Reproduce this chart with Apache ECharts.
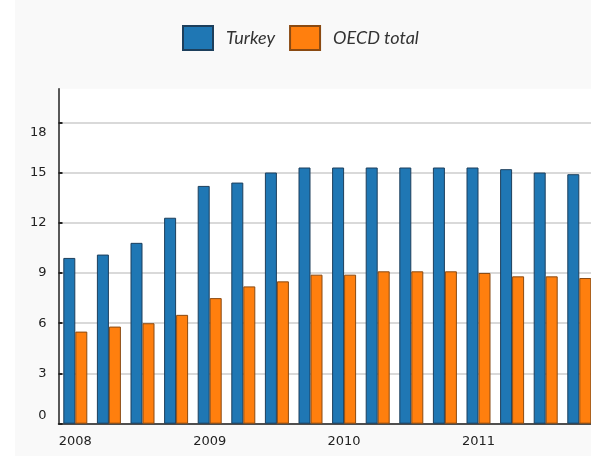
<!DOCTYPE html>
<html>
<head>
<meta charset="utf-8">
<script src="https://cdn.jsdelivr.net/npm/echarts@6/dist/echarts.min.js"></script>
<style>
  html, body { margin: 0; padding: 0; background: #ffffff; overflow: hidden; width: 591px; height: 456px; }
  #chart { position: absolute; left: 15px; top: 0; width: 582px; height: 456px; }
</style>
</head>
<body>
<div id="chart"></div>
<script>
var categories = ['2008 Q1','2008 Q2','2008 Q3','2008 Q4',
                  '2009 Q1','2009 Q2','2009 Q3','2009 Q4',
                  '2010 Q1','2010 Q2','2010 Q3','2010 Q4',
                  '2011 Q1','2011 Q2','2011 Q3','2011 Q4'];
var turkey = [9.9, 10.1, 10.8, 12.3, 14.2, 14.4, 15.0, 15.3, 15.3, 15.3, 15.3, 15.3, 15.3, 15.2, 15.0, 14.9];
var oecd   = [5.5, 5.8, 6.0, 6.5, 7.5, 8.2, 8.5, 8.9, 8.9, 9.1, 9.1, 9.1, 9.0, 8.8, 8.8, 8.7];
var yTicks = [0, 3, 6, 9, 12, 15, 18];

var chart = echarts.init(document.getElementById('chart'), null, { renderer: 'canvas' });
var labelFont = { fontFamily: 'DejaVu Sans', fontSize: 13, color: '#222' };
chart.setOption({
  backgroundColor: '#f9f9f9',
  animation: false,
  legend: {
    left: 162, top: 20,
    icon: 'rect',
    itemWidth: 30, itemHeight: 24, itemGap: 14,
    textStyle: { fontFamily: 'Lato', fontStyle: 'italic', fontSize: 18, color: '#333', padding: [0, 0, 0, 8] },
    data: ['Turkey', 'OECD total']
  },
  grid: {
    left: 43.5, right: 0.9, top: 88.8, bottom: 32.3,
    show: true, backgroundColor: '#ffffff', borderWidth: 0, containLabel: false
  },
  xAxis: {
    type: 'category',
    data: categories,
    boundaryGap: true,
    axisLine: { lineStyle: { color: '#222', width: 1.5 } },
    axisTick: { interval: 0, alignWithLabel: true, length: 4, lineStyle: { color: '#222', width: 1.5 } },
    axisLabel: Object.assign({
      interval: 0, margin: 11,
      formatter: function (v) { return v.slice(5) === 'Q1' ? v.slice(0, 4) : ''; }
    }, labelFont),
    splitLine: { show: false }
  },
  yAxis: {
    type: 'value', min: 0, max: 20, interval: 3,
    axisLine: { show: true, lineStyle: { color: '#222', width: 1.5 } },
    axisTick: { show: true, inside: true, length: 4, customValues: yTicks, lineStyle: { color: '#222', width: 2 } },
    axisLabel: Object.assign({
      margin: 12,
      customValues: yTicks,
      formatter: function (v) {
        if (v === 18) return '{d|18}';
        if (v === 0) return '{u|0}';
        return '{n|' + v + '}';
      },
      rich: {
        d: Object.assign({ padding: [20, 0, 0, 0] }, labelFont),
        u: Object.assign({ padding: [0, 0, 16, 0] }, labelFont),
        n: Object.assign({}, labelFont)
      }
    }, labelFont),
    splitLine: { show: true, lineStyle: { color: '#d9d9d9', width: 2 } }
  },
  series: [
    {
      name: 'Turkey', type: 'bar', data: turkey,
      barWidth: 12, barGap: '0%',
      itemStyle: { color: '#1f77b4', borderColor: '#1d3f5c', borderWidth: 1 }
    },
    {
      name: 'OECD total', type: 'bar', data: oecd,
      barWidth: 12, barGap: '0%',
      itemStyle: { color: '#ff7f0e', borderColor: '#8a4a12', borderWidth: 1 }
    }
  ]
});
</script>
</body>
</html>
